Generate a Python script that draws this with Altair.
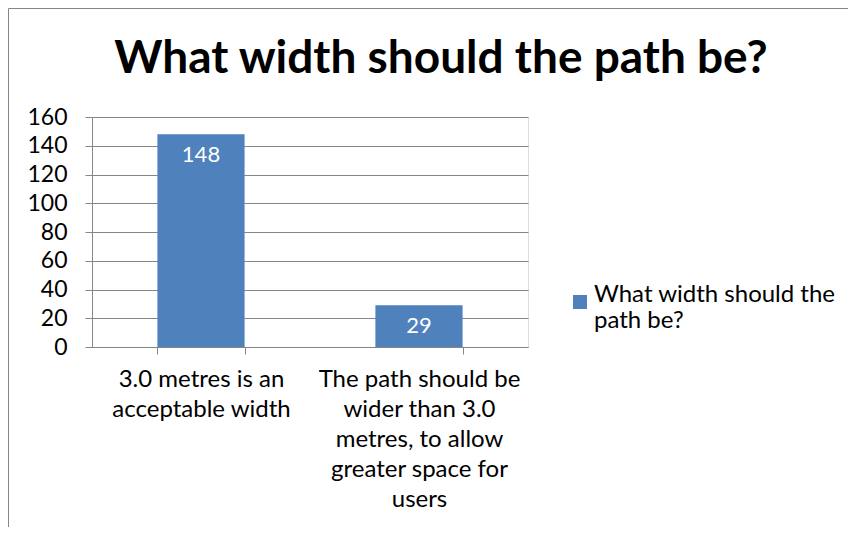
import json
import altair as alt
import pandas as pd

# ---- data ----
categories = [
    "3.0 metres is an acceptable width",
    "The path should be wider than 3.0 metres, to allow greater space for users",
]
category_lines = [
    ["3.0 metres is an", "acceptable width"],
    ["The path should be", "wider than 3.0", "metres, to allow", "greater space for", "users"],
]
values = [148, 29]
series_name = "What width should the path be?"
legend_lines = ["What width should the", "path be?"]
title_text = "What width should the path be?"
y_ticks = [0, 20, 40, 60, 80, 100, 120, 140, 160]

FONT = "Lato"
BLUE = "#4F81BD"
GRID = "#868686"
W, H = 436, 230
PAD_L, PAD_T, PAD_R, PAD_B = 84, 109, 320, 180

df = pd.DataFrame({"category": categories, "value": values, "series": [series_name] * len(values)})

# multi-line tick labels ('' for the extra extent tick)
label_expr = "''"
for cat, lines in reversed(list(zip(categories, category_lines))):
    label_expr = f"datum.value == {json.dumps(cat)} ? {json.dumps(lines)} : {label_expr}"
legend_expr = json.dumps(legend_lines)

x_enc = alt.X(
    "category:N",
    sort=categories,
    scale=alt.Scale(paddingInner=0.6, paddingOuter=0.3),
    axis=alt.Axis(
        title=None, labelAngle=0, labelExpr=label_expr, labelFont=FONT, labelFontSize=24,
        labelLineHeight=30, labelPadding=13, labelColor="black", labelLimit=400,
        labelOverlap=False, tickBand="extent", tickSize=7, tickColor=GRID,
        domainColor=GRID, grid=False,
    ),
)
y_enc = alt.Y(
    "value:Q",
    scale=alt.Scale(domain=[0, 160]),
    axis=alt.Axis(
        title=None, values=y_ticks, tickCount=len(y_ticks), grid=True, gridColor=GRID,
        gridOpacity=1, domainColor=GRID, tickColor=GRID, tickSize=7, labelFont=FONT,
        labelFontSize=23, labelPadding=18, labelColor="black", labelOverlap=False,
        labelFlush=False,
    ),
)

bars = alt.Chart(df).mark_bar(color=BLUE).encode(
    x=x_enc,
    y=y_enc,
    color=alt.Color(
        "series:N",
        scale=alt.Scale(domain=[series_name], range=[BLUE]),
        legend=alt.Legend(
            title=None, orient="none", legendX=476, legendY=173, symbolType="square",
            symbolSize=196, symbolStrokeWidth=0, labelFont=FONT, labelFontSize=24,
            labelLimit=400, labelExpr=legend_expr, labelBaseline="alphabetic",
            labelColor="black", labelOffset=2,
        ),
    ),
)

labels = alt.Chart(df).mark_text(
    baseline="top", dy=11, color="white", font=FONT, fontSize=22
).encode(x=x_enc, y=y_enc, text="value:Q")

frame_data = alt.Data(values=[{"k": 1}])
frame_left = alt.Chart(frame_data).mark_rule(color=GRID, strokeWidth=1).encode(
    x=alt.value(-PAD_L + 0.5), y=alt.value(-PAD_T + 0.5), y2=alt.value(H + PAD_B)
)
frame_top = alt.Chart(frame_data).mark_rule(color=GRID, strokeWidth=1).encode(
    x=alt.value(-PAD_L + 0.5), x2=alt.value(W + PAD_R), y=alt.value(-PAD_T + 0.5)
)

chart = alt.layer(bars, labels, frame_left, frame_top).properties(
    width=W,
    height=H,
    autosize=alt.AutoSizeParams(type="none"),
    padding={"left": PAD_L, "top": PAD_T, "right": PAD_R, "bottom": PAD_B},
    title=alt.Title(
        title_text, font=FONT, fontSize=46, fontWeight="bold", color="black",
        anchor="middle", dx=131, offset=0, baseline="alphabetic", dy=111,
    ),
).configure_view(stroke=None).configure(background="white")

chart.save("out.html", embed_options={"renderer": "svg", "actions": False})
